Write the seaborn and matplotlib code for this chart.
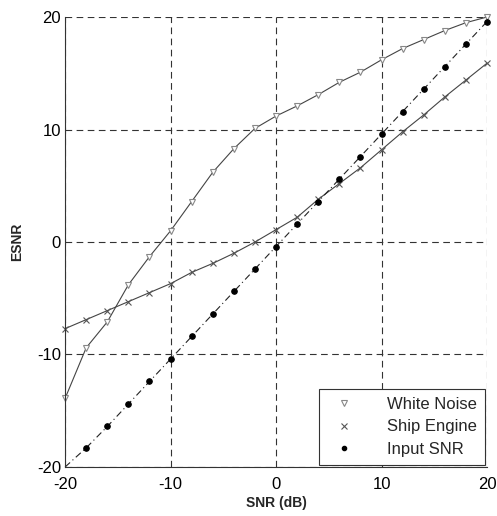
import numpy as np
import pandas as pd
import matplotlib.pyplot as plt
import seaborn as sns
from matplotlib.lines import Line2D

# --- Data ---
SNR_DB = [-20, -18, -16, -14, -12, -10, -8, -6, -4, -2, 0,
          2, 4, 6, 8, 10, 12, 14, 16, 18, 20]

WHITE_NOISE = [-13.9, -9.4, -7.1, -3.8, -1.3, 1.0, 3.6, 6.2, 8.3, 10.1, 11.2,
               12.1, 13.1, 14.2, 15.1, 16.2, 17.2, 18.0, 18.8, 19.5, 20.0]

SHIP_ENGINE = [-7.7, -6.9, -6.1, -5.3, -4.5, -3.7, -2.7, -1.9, -1.0, 0.0, 1.1,
               2.2, 3.8, 5.2, 6.6, 8.2, 9.8, 11.3, 12.9, 14.4, 15.9]

INPUT_SNR = [-20.0, -18.3, -16.4, -14.4, -12.4, -10.4, -8.4, -6.4, -4.4, -2.4, -0.4,
             1.6, 3.6, 5.6, 7.6, 9.6, 11.6, 13.6, 15.6, 17.6, 19.6]

SERIES_NAMES = ['White Noise', 'Ship Engine', 'Input SNR']
TICKS = [-20, -10, 0, 10, 20]

sns.set_style('white')
plt.rcParams['font.family'] = ['Liberation Sans', 'DejaVu Sans']
plt.rcParams['axes.unicode_minus'] = False

df = pd.DataFrame({'SNR': SNR_DB, 'White Noise': WHITE_NOISE,
                   'Ship Engine': SHIP_ENGINE, 'Input SNR': INPUT_SNR})

fig = plt.figure(figsize=(4.97, 5.16), dpi=100)
ax = fig.add_axes([0.131, 0.095, 0.849, 0.872])

# grid first so it sits under the curves
for t in TICKS:
    ax.axhline(t, color='#333333', linestyle=(0, (6, 4)), linewidth=0.8, zorder=0)
    ax.axvline(t, color='#333333', linestyle=(0, (6, 4)), linewidth=0.8, zorder=0)

sns.lineplot(data=df, x='SNR', y='White Noise', ax=ax, color='#444444', linewidth=0.8,
             marker='v', markersize=5, markerfacecolor='white', markeredgecolor='#888888',
             markeredgewidth=0.8, clip_on=False)
sns.lineplot(data=df, x='SNR', y='Ship Engine', ax=ax, color='#444444', linewidth=0.8,
             marker='x', markersize=4.5, markeredgecolor='#555555', markeredgewidth=0.8,
             clip_on=False)
sns.lineplot(data=df, x='SNR', y='Input SNR', ax=ax, color='#222222', linewidth=0.8,
             linestyle=(0, (6, 3, 1, 3)), marker='o', markersize=4,
             markerfacecolor='black', markeredgecolor='black', markevery=list(range(1, 21)),
             clip_on=False)

ax.set_xlim(-20, 20)
ax.set_ylim(-20, 20)
ax.set_xticks(TICKS)
ax.set_yticks(TICKS)
ax.tick_params(direction='in', length=4, labelsize=12, colors='black')
ax.tick_params(axis='x', pad=7)
ax.tick_params(axis='y', pad=3)
for side in ['top', 'right']:
    ax.spines[side].set_visible(False)
for side in ['left', 'bottom']:
    ax.spines[side].set_color('#333333')
    ax.spines[side].set_linewidth(0.8)

ax.set_xlabel('SNR (dB)', fontsize=10, fontweight='bold', labelpad=3)
ax.set_ylabel('ESNR', fontsize=10, fontweight='bold', labelpad=9)

handles = [
    Line2D([], [], linestyle='none', marker='v', markersize=5, markerfacecolor='white',
           markeredgecolor='#888888', markeredgewidth=0.8),
    Line2D([], [], linestyle='none', marker='x', markersize=4, markeredgecolor='#555555',
           markeredgewidth=0.8),
    Line2D([], [], linestyle='none', marker='o', markersize=3, markerfacecolor='black',
           markeredgecolor='black'),
]
leg = ax.legend(handles, SERIES_NAMES, loc='lower right', fontsize=12, frameon=True,
                fancybox=False, borderaxespad=0.1, handletextpad=1.6, labelspacing=0.45,
                borderpad=0.5, handlelength=2.0)
leg.get_frame().set_edgecolor('#333333')
leg.get_frame().set_linewidth(0.8)
leg.get_frame().set_alpha(1)

plt.savefig('out.png', dpi=100)
